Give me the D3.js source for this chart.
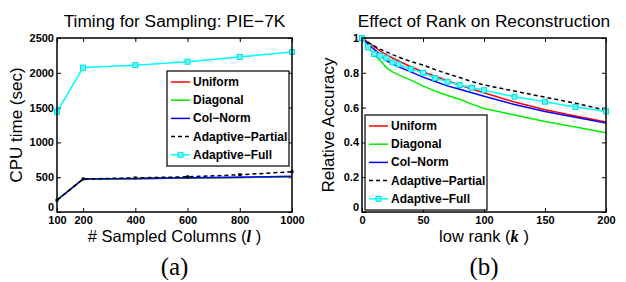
<!DOCTYPE html>
<html>
<head>
<meta charset="utf-8">
<script src="https://cdn.jsdelivr.net/npm/d3@7"></script>
<style>
  body { margin: 0; background: #fff; }
  svg { display: block; }
</style>
</head>
<body>
<div id="chart"></div>
<script>
const WIDTH = 626;
const HEIGHT = 282;

// ---- data: panel (a) timing ----
const COLUMNS = [100, 200, 400, 600, 800, 1000];
const TIME_UNIFORM = [170, 472, 478, 488, 495, 505];
const TIME_DIAGONAL = [170, 470, 478, 488, 497, 508];
const TIME_COLNORM = [172, 475, 482, 492, 500, 512];
const TIME_ADAPT_PARTIAL = [170, 475, 490, 505, 535, 578];
const TIME_ADAPT_FULL = [1440, 2075, 2110, 2160, 2228, 2300];
const A_XTICKS = [100, 200, 400, 600, 800, 1000];
const A_YTICKS = [0, 500, 1000, 1500, 2000, 2500];

// ---- data: panel (b) accuracy vs rank ----
const RANKS = [0, 5, 10, 15, 20, 25, 30, 40, 50, 60, 70, 80, 90, 100, 125, 150, 175, 200];
const ACC_UNIFORM = [1.0, 0.975, 0.95, 0.925, 0.905, 0.885, 0.868, 0.835, 0.805, 0.78, 0.755, 0.73, 0.707, 0.685, 0.632, 0.588, 0.552, 0.517];
const ACC_DIAGONAL = [1.0, 0.95, 0.905, 0.87, 0.83, 0.805, 0.788, 0.758, 0.725, 0.695, 0.67, 0.648, 0.62, 0.595, 0.558, 0.52, 0.488, 0.455];
const ACC_COLNORM = [1.0, 0.965, 0.935, 0.905, 0.87, 0.85, 0.835, 0.805, 0.775, 0.75, 0.725, 0.705, 0.685, 0.665, 0.618, 0.578, 0.545, 0.512];
const ACC_ADAPT_PARTIAL = [1.0, 0.975, 0.955, 0.935, 0.92, 0.905, 0.89, 0.865, 0.845, 0.818, 0.795, 0.773, 0.75, 0.73, 0.695, 0.66, 0.625, 0.585];
const ACC_ADAPT_FULL = [1.0, 0.947, 0.908, 0.898, 0.884, 0.86, 0.848, 0.822, 0.80, 0.77, 0.749, 0.73, 0.714, 0.70, 0.663, 0.634, 0.603, 0.578];
const B_XTICKS = [0, 50, 100, 150, 200];
const B_YTICKS = [0, 0.2, 0.4, 0.6, 0.8, 1];

const LEGEND_NAMES = ["Uniform", "Diagonal", "Col\u2212Norm", "Adaptive\u2212Partial", "Adaptive\u2212Full"];
const COLORS = ["#ff0000", "#00ee00", "#0000ff", "#000000", "#00ffff"];

const FONT = "'Liberation Sans', Arial, Helvetica, sans-serif";
const SERIF = "'Liberation Serif', 'DejaVu Serif', serif";

const svg = d3.select("#chart")
  .append("svg")
  .attr("width", WIDTH)
  .attr("height", HEIGHT);

function drawPanel(cfg) {
  const xScale = d3.scaleLinear().domain(cfg.xDomain).range([cfg.x0, cfg.x1]);
  const yScale = d3.scaleLinear().domain(cfg.yDomain).range([cfg.y1, cfg.y0]);
  const g = svg.append("g");

  // axes with inward ticks
  const bottom = g.append("g")
    .attr("transform", `translate(0, ${cfg.y1})`)
    .call(d3.axisBottom(xScale).tickValues(cfg.xTicks).tickSize(-4).tickPadding(4).tickFormat(d3.format("d")));
  const left = g.append("g")
    .attr("transform", `translate(${cfg.x0}, 0)`)
    .call(d3.axisLeft(yScale).tickValues(cfg.yTicks).tickSize(-4).tickPadding(3).tickFormat(cfg.yFormat));
  const top = g.append("g")
    .attr("transform", `translate(0, ${cfg.y0})`)
    .call(d3.axisTop(xScale).tickValues(cfg.xTicks).tickSize(-4).tickFormat(""));
  const right = g.append("g")
    .attr("transform", `translate(${cfg.x1}, 0)`)
    .call(d3.axisRight(yScale).tickValues(cfg.yTicks).tickSize(-4).tickFormat(""));
  [bottom, left, top, right].forEach(a => {
    a.select(".domain").remove();
    a.selectAll("line").attr("stroke", "#000").attr("stroke-width", 1);
    a.selectAll("text")
      .style("font-family", FONT)
      .style("font-size", "11px")
      .style("font-weight", "bold")
      .attr("fill", "#000");
  });
  // lift the zero label a bit so it sits clear of the x tick labels
  left.selectAll("text").filter(d => d === 0).attr("dy", "-0.1em");

  // lines
  const line = d3.line()
    .x((d, i) => xScale(cfg.xs[i]))
    .y(d => yScale(d));
  cfg.series.forEach((s, i) => {
    g.append("path")
      .datum(s)
      .attr("fill", "none")
      .attr("stroke", COLORS[i])
      .attr("stroke-width", 1.5)
      .attr("stroke-dasharray", i === 3 ? "4,3" : null)
      .attr("d", line);
  });
  // markers for Adaptive-Full
  g.append("g")
    .selectAll("rect")
    .data(cfg.series[4])
    .enter()
    .append("rect")
    .attr("x", (d, i) => xScale(cfg.xs[i]) - 2.5)
    .attr("y", d => yScale(d) - 2.5)
    .attr("width", 5)
    .attr("height", 5)
    .attr("fill", "#66ffff")
    .attr("stroke", "#00dddd")
    .attr("stroke-width", 1);
  if (cfg.partialMarkers) {
    g.append("g")
      .selectAll("rect")
      .data(cfg.series[3])
      .enter()
      .append("rect")
      .attr("x", (d, i) => xScale(cfg.xs[i]) - 1.5)
      .attr("y", d => yScale(d) - 1.5)
      .attr("width", 3)
      .attr("height", 3)
      .attr("fill", "#000");
  }

  // axes box
  g.append("rect")
    .attr("x", cfg.x0).attr("y", cfg.y0)
    .attr("width", cfg.x1 - cfg.x0).attr("height", cfg.y1 - cfg.y0)
    .attr("fill", "none").attr("stroke", "#000").attr("stroke-width", 1.5);

  // legend
  const lg = g.append("g").attr("transform", `translate(${cfg.legX}, ${cfg.legY})`);
  lg.append("rect")
    .attr("x", 0).attr("y", 0).attr("width", 122).attr("height", 95)
    .attr("fill", "#fff").attr("stroke", "#000").attr("stroke-width", 1.2);
  LEGEND_NAMES.forEach((name, i) => {
    const yy = 11 + i * 18.2;
    lg.append("line")
      .attr("x1", 4).attr("x2", 23).attr("y1", yy).attr("y2", yy)
      .attr("stroke", COLORS[i]).attr("stroke-width", 1.5)
      .attr("stroke-dasharray", i === 3 ? "4,3" : null);
    if (i === 4) {
      lg.append("rect")
        .attr("x", 11).attr("y", yy - 2.5).attr("width", 5).attr("height", 5)
        .attr("fill", "#66ffff").attr("stroke", "#00dddd");
    }
    lg.append("text")
      .attr("x", 26).attr("y", yy + 4)
      .style("font-family", FONT).style("font-size", "12px").style("font-weight", "bold")
      .text(name);
  });

  const cx = (cfg.x0 + cfg.x1) / 2;
  // title
  g.append("text")
    .attr("x", cx).attr("y", 27)
    .style("font-family", FONT).style("font-size", "17.3px")
    .style("text-anchor", "middle")
    .text(cfg.title);
  // y label
  g.append("text")
    .attr("transform", `translate(${cfg.yLabelX}, ${(cfg.y0 + cfg.y1) / 2}) rotate(-90)`)
    .style("font-family", FONT).style("font-size", "17px")
    .style("text-anchor", "middle")
    .text(cfg.yLabel);
  // x label with math symbol
  const xl = g.append("text")
    .attr("x", cx).attr("y", 242)
    .style("font-family", FONT).style("font-size", "16.5px")
    .style("text-anchor", "middle");
  xl.append("tspan").text(cfg.xLabel + " (");
  xl.append("tspan").style("font-family", SERIF).style("font-style", "italic")
    .style("font-weight", "bold").text(cfg.xSym);
  xl.append("tspan").text(" )");
  // panel tag
  g.append("text")
    .attr("x", cx).attr("y", 275)
    .style("font-family", SERIF).style("font-size", "25px")
    .style("text-anchor", "middle")
    .text(cfg.tag);
}

drawPanel({
  x0: 57, x1: 292, y0: 38, y1: 212,
  xDomain: [100, 1000], yDomain: [0, 2500],
  xTicks: A_XTICKS, yTicks: A_YTICKS, yFormat: d3.format("d"),
  xs: COLUMNS,
  series: [TIME_UNIFORM, TIME_DIAGONAL, TIME_COLNORM, TIME_ADAPT_PARTIAL, TIME_ADAPT_FULL],
  partialMarkers: true,
  legX: 167, legY: 71,
  title: "Timing for Sampling: PIE\u22127K",
  yLabel: "CPU time (sec)", yLabelX: 22,
  xLabel: "# Sampled Columns", xSym: "l",
  tag: "(a)"
});

drawPanel({
  x0: 362, x1: 606, y0: 38, y1: 212,
  xDomain: [0, 200], yDomain: [0, 1],
  xTicks: B_XTICKS, yTicks: B_YTICKS, yFormat: d => (d === 0 || d === 1) ? String(d) : d3.format(".1f")(d),
  xs: RANKS,
  series: [ACC_UNIFORM, ACC_DIAGONAL, ACC_COLNORM, ACC_ADAPT_PARTIAL, ACC_ADAPT_FULL],
  partialMarkers: false,
  legX: 365, legY: 115,
  title: "Effect of Rank on Reconstruction",
  yLabel: "Relative Accuracy", yLabelX: 334,
  xLabel: "low rank", xSym: "k",
  tag: "(b)"
});
</script>
</body>
</html>
